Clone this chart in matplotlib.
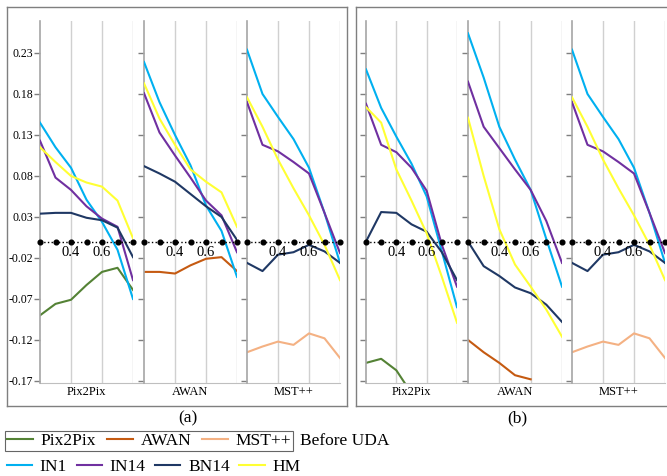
import numpy as np
import matplotlib

matplotlib.use('Agg')
import matplotlib.pyplot as plt
from matplotlib.lines import Line2D

plt.rcParams['font.family'] = ['Liberation Serif', 'DejaVu Serif']

# Data: x positions within every sub-column and the series
x_vals = [0.2, 0.3, 0.4, 0.5, 0.6, 0.7, 0.8]
x_grid = [0.4, 0.6, 0.8]
x_labels = [0.4, 0.6]
y_ticks = [0.23, 0.18, 0.13, 0.08, 0.03, -0.02, -0.07, -0.12, -0.17]
models = ['Pix2Pix', 'AWAN', 'MST++']
methods = ['IN1', 'IN14', 'BN14', 'HM']

# panel (a)
a_pix2pix_before = [-0.090, -0.076, -0.071, -0.053, -0.037, -0.032, -0.059]
a_pix2pix_in1 = [0.145, 0.115, 0.090, 0.051, 0.024, -0.010, -0.070]
a_pix2pix_in14 = [0.123, 0.078, 0.063, 0.043, 0.028, 0.018, -0.047]
a_pix2pix_bn14 = [0.034, 0.035, 0.035, 0.029, 0.026, 0.017, -0.019]
a_pix2pix_hm = [0.115, 0.097, 0.080, 0.072, 0.067, 0.050, 0.004]

a_awan_before = [-0.037, -0.037, -0.039, -0.029, -0.021, -0.019, -0.036]
a_awan_in1 = [0.219, 0.170, 0.130, 0.093, 0.044, 0.013, -0.043]
a_awan_in14 = [0.181, 0.133, 0.105, 0.078, 0.050, 0.032, -0.013]
a_awan_bn14 = [0.092, 0.083, 0.073, 0.058, 0.043, 0.030, 0.002]
a_awan_hm = [0.193, 0.150, 0.118, 0.088, 0.073, 0.060, 0.018]

a_mst_before = [-0.135, -0.128, -0.122, -0.126, -0.112, -0.118, -0.142]
a_mst_in1 = [0.234, 0.180, 0.152, 0.125, 0.090, 0.035, -0.026]
a_mst_in14 = [0.170, 0.118, 0.110, 0.097, 0.083, 0.035, -0.014]
a_mst_bn14 = [-0.026, -0.036, -0.016, -0.013, -0.004, -0.012, -0.026]
a_mst_hm = [0.176, 0.140, 0.100, 0.065, 0.032, -0.004, -0.047]

# panel (b)
b_pix2pix_before = [-0.148, -0.143, -0.157, -0.185, np.nan, np.nan, np.nan]
b_pix2pix_in1 = [0.210, 0.163, 0.128, 0.095, 0.055, -0.012, -0.080]
b_pix2pix_in14 = [0.168, 0.118, 0.109, 0.090, 0.062, -0.004, -0.055]
b_pix2pix_bn14 = [0.000, 0.036, 0.035, 0.021, 0.012, -0.013, -0.047]
b_pix2pix_hm = [0.164, 0.145, 0.088, 0.050, 0.010, -0.043, -0.099]

b_awan_before = [-0.120, -0.135, -0.148, -0.163, -0.168, np.nan, np.nan]
b_awan_in1 = [0.254, 0.200, 0.140, 0.100, 0.063, 0.003, -0.055]
b_awan_in14 = [0.195, 0.140, 0.114, 0.088, 0.063, 0.025, -0.026]
b_awan_bn14 = [0.000, -0.030, -0.042, -0.056, -0.063, -0.077, -0.098]
b_awan_hm = [0.151, 0.080, 0.015, -0.028, -0.055, -0.083, -0.116]

b_mst_before = a_mst_before
b_mst_in1 = a_mst_in1
b_mst_in14 = a_mst_in14
b_mst_bn14 = a_mst_bn14
b_mst_hm = a_mst_hm

before_colors = ['#548235', '#C55A11', '#F4B183']
method_colors = ['#00B0F0', '#7030A0', '#1F3864', '#FFFF33']

panels = {
    'a': [(a_pix2pix_before, [a_pix2pix_in1, a_pix2pix_in14, a_pix2pix_bn14, a_pix2pix_hm]),
          (a_awan_before, [a_awan_in1, a_awan_in14, a_awan_bn14, a_awan_hm]),
          (a_mst_before, [a_mst_in1, a_mst_in14, a_mst_bn14, a_mst_hm])],
    'b': [(b_pix2pix_before, [b_pix2pix_in1, b_pix2pix_in14, b_pix2pix_bn14, b_pix2pix_hm]),
          (b_awan_before, [b_awan_in1, b_awan_in14, b_awan_bn14, b_awan_hm]),
          (b_mst_before, [b_mst_in1, b_mst_in14, b_mst_bn14, b_mst_hm])],
}

W, H = 667, 476
fig = plt.figure(figsize=(W / 100, H / 100), dpi=100)


def rect(x0, x1, ytop, ybot):
    return [x0 / W, 1 - ybot / H, (x1 - x0) / W, (ybot - ytop) / H]


# pixel extents of the columns
col_x = {'a': [(40, 133), (144, 237), (247, 340)],
         'b': [(366, 457), (468, 562), (572, 665)]}
boxes = {'a': (7, 347), 'b': (356, 700)}
captions = {'a': 188, 'b': 517}
YTOP, YBOT = 21, 383
ylim = (-0.1725, 0.269)

for key in ['a', 'b']:
    # outer frame
    bx0, bx1 = boxes[key]
    frame = fig.add_axes(rect(bx0, bx1, 7, 406))
    frame.set_xticks([])
    frame.set_yticks([])
    frame.patch.set_alpha(0)
    for s in frame.spines.values():
        s.set_color('#7f7f7f')
        s.set_linewidth(1.0)

    # continuous baseline under the three columns
    base = fig.add_axes(rect(col_x[key][0][0], col_x[key][2][1], YTOP, YBOT))
    base.patch.set_alpha(0)
    base.set_xticks([])
    base.set_yticks([])
    for side in ['top', 'left', 'right']:
        base.spines[side].set_visible(False)
    base.spines['bottom'].set_color('#bfbfbf')

    for i, (x0, x1) in enumerate(col_x[key]):
        ax = fig.add_axes(rect(x0, x1, YTOP, YBOT))
        ax.patch.set_alpha(0)
        ax.set_xlim(0.2, 0.8)
        ax.set_ylim(*ylim)
        for g in x_grid:
            ax.axvline(g, color='#d0d0d0', lw=1.0, zorder=0)
        before, series = panels[key][i]
        ax.plot(x_vals, before, color=before_colors[i], lw=1.5, zorder=2)
        for s, c in zip(series, method_colors):
            ax.plot(x_vals, s, color=c, lw=1.5, zorder=3)
        ax.plot(x_vals, np.zeros(len(x_vals)), color='black', ls=':', lw=1.0,
                marker='o', ms=3.4, zorder=5, clip_on=False)
        for xl in x_labels:
            ax.text(xl, -0.005, f'{xl:.1f}', ha='center', va='top', fontsize=10.5, zorder=4)
        ax.set_xticks([])
        ax.set_yticks(y_ticks)
        if key == 'a' and i == 0:
            ax.set_yticklabels([f'{t:.2f}' for t in y_ticks], fontsize=8.5)
        else:
            ax.set_yticklabels([])
        ax.tick_params(axis='y', length=4, width=1, color='#7f7f7f', pad=1)
        for side in ['top', 'right', 'bottom']:
            ax.spines[side].set_visible(False)
        ax.spines['left'].set_color('#a6a6a6')
        ax.spines['left'].set_linewidth(1.2)
        fig.text((x0 + x1) / 2 / W, 1 - 392 / H, models[i], ha='center', va='center', fontsize=9)

    fig.text(captions[key] / W, 1 - 418 / H, f'({key})', ha='center', va='center', fontsize=12.5)

# legends
h_before = [Line2D([], [], color=c, lw=1.5) for c in before_colors]
leg1 = fig.legend(h_before, models, loc='center left', bbox_to_anchor=(5 / W, 1 - 441 / H),
                  ncol=3, fontsize=12.5, frameon=True, fancybox=False, edgecolor='#404040',
                  handlelength=1.5, handletextpad=0.45, columnspacing=0.6,
                  borderpad=0.1, borderaxespad=0)
leg1.get_frame().set_linewidth(0.8)
fig.text(300 / W, 1 - 441 / H, 'Before UDA', ha='left', va='center', fontsize=12.5)

h_method = [Line2D([], [], color=c, lw=1.5) for c in method_colors]
fig.legend(h_method, methods, loc='center left', bbox_to_anchor=(5 / W, 1 - 467 / H),
           ncol=4, fontsize=12.5, frameon=False, handlelength=1.45, handletextpad=0.45,
           columnspacing=0.55, borderpad=0.1, borderaxespad=0)

plt.savefig('out.png', dpi=100)
